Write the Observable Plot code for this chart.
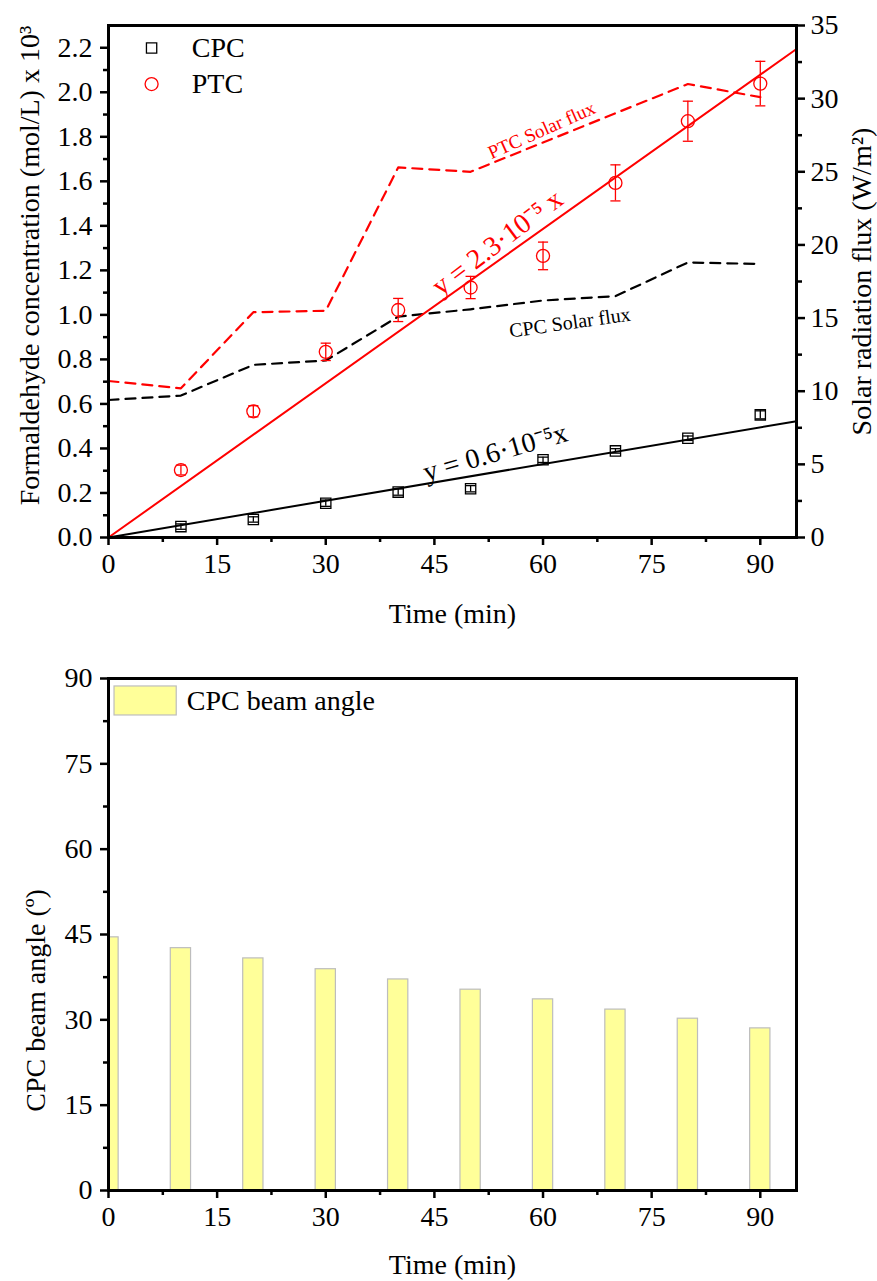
<!DOCTYPE html>
<html><head><meta charset="utf-8">
<script src="https://cdn.jsdelivr.net/npm/d3@7"></script>
<script src="https://cdn.jsdelivr.net/npm/@observablehq/plot@0.6"></script>
<style>
body{margin:0;background:#fff;}
#chart svg{display:block;}
</style></head><body><div id="chart"></div>
<script>
// ---- data ----
const fluxTime = [0,10,20,30,40,50,60,70,80,90];
const sampleTime = [10,20,30,40,50,60,70,80,90];
const cpcConc = [0.049,0.081,0.154,0.204,0.219,0.349,0.389,0.446,0.551];
const cpcErr  = [0.012,0.012,0.014,0.014,0.014,0.012,0.010,0.010,0.018];
const ptcConc = [0.303,0.567,0.834,1.022,1.123,1.265,1.593,1.870,2.039];
const ptcErr  = [0.022,0.025,0.039,0.052,0.050,0.062,0.081,0.090,0.100];
const cpcFlux = [9.4,9.7,11.8,12.1,15.1,15.6,16.2,16.5,18.8,18.7];
const ptcFlux = [10.7,10.2,15.4,15.5,25.3,25.0,27.0,29.0,31.0,30.1];
const fitSlopes = {CPC: 0.0055, PTC: 0.0231};
const beamTime = [0,10,20,30,40,50,60,70,80,90];
const beamAngle = [44.5,42.6,40.8,38.9,37.1,35.3,33.6,31.8,30.2,28.5];
const xTicks = [0,15,30,45,60,75,90];
const xMinor = [7.5,22.5,37.5,52.5,67.5,82.5];
const leftTicks = [0,0.2,0.4,0.6,0.8,1.0,1.2,1.4,1.6,1.8,2.0,2.2];
const leftMinor = [0.1,0.3,0.5,0.7,0.9,1.1,1.3,1.5,1.7,1.9,2.1];
const rightTicks = [0,5,10,15,20,25,30,35];
const rightMinor = [2.5,7.5,12.5,17.5,22.5,27.5,32.5];
const angleTicks = [0,15,30,45,60,75,90];
const angleMinor = [7.5,22.5,37.5,52.5,67.5,82.5];

const LEFT_MAX = 2.3, RIGHT_MAX = 35;
const toLeft = v => v * LEFT_MAX / RIGHT_MAX;
const RED = "#ff0000";
const FONT = "Liberation Serif, Times New Roman, serif";
const FS = 28;

const cpc = sampleTime.map((t,i)=>({t, y:cpcConc[i], e:cpcErr[i]}));
const ptc = sampleTime.map((t,i)=>({t, y:ptcConc[i], e:ptcErr[i]}));
const fluxC = fluxTime.map((t,i)=>({t, v:toLeft(cpcFlux[i])}));
const fluxP = fluxTime.map((t,i)=>({t, v:toLeft(ptcFlux[i])}));
const xDomain = [0,95];
const fitLine = s => xDomain.map(x=>({x, y:fitSlopes[s]*x}));
const capHalf = 0.7;

const errMarks = (data, color) => [
  Plot.ruleX(data, {x:"t", y1:d=>d.y-d.e, y2:d=>d.y+d.e, stroke:color, strokeWidth:1.3}),
  Plot.link(data, {x1:d=>d.t-capHalf, x2:d=>d.t+capHalf, y1:d=>d.y+d.e, y2:d=>d.y+d.e, stroke:color, strokeWidth:1.3}),
  Plot.link(data, {x1:d=>d.t-capHalf, x2:d=>d.t+capHalf, y1:d=>d.y-d.e, y2:d=>d.y-d.e, stroke:color, strokeWidth:1.3})
];

const topPlot = Plot.plot({
  width: 877, height: 640,
  marginLeft: 108, marginRight: 81, marginTop: 25, marginBottom: 103,
  style: {fontFamily: FONT, fontSize: FS + "px", color: "#000", background: "#fff"},
  x: {domain: xDomain},
  y: {domain: [0, LEFT_MAX]},
  marks: [
    Plot.line(fluxP, {x:"t", y:"v", stroke:RED, strokeWidth:2.2, strokeDasharray:"10,7"}),
    Plot.line(fluxC, {x:"t", y:"v", stroke:"#000", strokeWidth:2.2, strokeDasharray:"10,7"}),
    Plot.line(fitLine("PTC"), {x:"x", y:"y", stroke:RED, strokeWidth:2}),
    Plot.line(fitLine("CPC"), {x:"x", y:"y", stroke:"#000", strokeWidth:2}),
    ...errMarks(ptc, RED),
    ...errMarks(cpc, "#000"),
    Plot.dot(ptc, {x:"t", y:"y", r:6.5, stroke:RED, strokeWidth:1.3, fill:"none"}),
    Plot.dot(cpc, {x:"t", y:"y", r:5.8, symbol:"square", stroke:"#000", strokeWidth:1.3, fill:"none"}),
    // annotations
    Plot.text(["PTC Solar flux"], {x:59.8, y:1.829, rotate:-24, fill:RED, fontSize:19}),
    Plot.text(["CPC Solar flux"], {x:63.7, y:0.965, rotate:-8, fill:"#000", fontSize:20}),
    Plot.text(["y = 2.3·10⁻⁵ x"], {x:53.7, y:1.325, rotate:-37, fill:RED, fontSize:28}),
    Plot.text(["y = 0.6·10⁻⁵x"], {x:53.4, y:0.382, rotate:-16, fill:"#000", fontSize:28}),
    // legend
    Plot.dot(["CPC"], {x:5.95, y:2.199, r:5.8, symbol:"square", stroke:"#000", strokeWidth:1.3, fill:"none"}),
    Plot.dot(["PTC"], {x:5.95, y:2.037, r:6.5, stroke:RED, strokeWidth:1.3, fill:"none"}),
    Plot.text(["CPC"], {x:11.5, y:2.199, textAnchor:"start", fontSize:FS}),
    Plot.text(["PTC"], {x:11.5, y:2.037, textAnchor:"start", fontSize:FS}),
    // axes
    Plot.axisX({ticks:xTicks, tickSize:8, tickPadding:8, strokeWidth:2.5, label:null}),
    Plot.axisX({ticks:xMinor, tickSize:5, tickFormat:()=>"", strokeWidth:2.5, label:null}),
    Plot.axisY({ticks:leftTicks, tickSize:8, tickPadding:8, strokeWidth:2.5, tickFormat:d3.format(".1f"), label:null}),
    Plot.axisY({ticks:leftMinor, tickSize:5, tickFormat:()=>"", strokeWidth:2.5, label:null}),
    Plot.axisY({ticks:rightTicks.map(toLeft), anchor:"right", tickSize:8, tickPadding:6, strokeWidth:2.5, tickFormat:d=>String(Math.round(d*RIGHT_MAX/LEFT_MAX)), label:null}),
    Plot.axisY({ticks:rightMinor.map(toLeft), anchor:"right", tickSize:5, tickFormat:()=>"", strokeWidth:2.5, label:null}),
    Plot.frame({stroke:"#000", strokeWidth:3}),
    Plot.text(["Time (min)"], {frameAnchor:"bottom", dy:77, textAnchor:"middle", lineAnchor:"middle", fontSize:FS}),
    Plot.text(["Formaldehyde concentration (mol/L) x 10³"], {frameAnchor:"left", dx:-78, dy:-16, textAnchor:"middle", lineAnchor:"middle", rotate:-90, fontSize:FS}),
    Plot.text(["Solar radiation flux (W/m²)"], {frameAnchor:"right", dx:66, textAnchor:"middle", lineAnchor:"middle", rotate:-90, fontSize:FS})
  ]
});

const beam = beamTime.map((t,i)=>({t, a:beamAngle[i]}));
const barHalf = 1.4;
const bottomPlot = Plot.plot({
  width: 877, height: 641,
  marginLeft: 108, marginRight: 81, marginTop: 38, marginBottom: 91,
  style: {fontFamily: FONT, fontSize: FS + "px", color: "#000", background: "#fff"},
  x: {domain: xDomain},
  y: {domain: [0, 90]},
  marks: [
    Plot.rectY(beam, {x1:d=>d.t-barHalf, x2:d=>d.t+barHalf, y1:0, y2:"a", fill:"#ffff99", stroke:"#bdbdbd", strokeWidth:1.2, clip:true}),
    // legend
    Plot.rect(["CPC beam angle"], {x1:0.83, x2:9.42, y1:83.5, y2:88.6, fill:"#ffff99", stroke:"#bdbdbd", strokeWidth:1.2}),
    Plot.text(["CPC beam angle"], {x:10.8, y:86.0, textAnchor:"start", fontSize:FS}),
    Plot.axisX({ticks:xTicks, tickSize:8, tickPadding:8, strokeWidth:2.5, label:null}),
    Plot.axisX({ticks:xMinor, tickSize:5, tickFormat:()=>"", strokeWidth:2.5, label:null}),
    Plot.axisY({ticks:angleTicks, tickSize:8, tickPadding:8, strokeWidth:2.5, label:null}),
    Plot.axisY({ticks:angleMinor, tickSize:5, tickFormat:()=>"", strokeWidth:2.5, label:null}),
    Plot.frame({stroke:"#000", strokeWidth:3}),
    Plot.text(["Time (min)"], {frameAnchor:"bottom", dy:75, textAnchor:"middle", lineAnchor:"middle", fontSize:FS}),
    Plot.text(["CPC beam angle (º)"], {frameAnchor:"left", dx:-72, dy:66, textAnchor:"middle", lineAnchor:"middle", rotate:-90, fontSize:FS})
  ]
});

document.getElementById("chart").append(topPlot, bottomPlot);
</script></body></html>
